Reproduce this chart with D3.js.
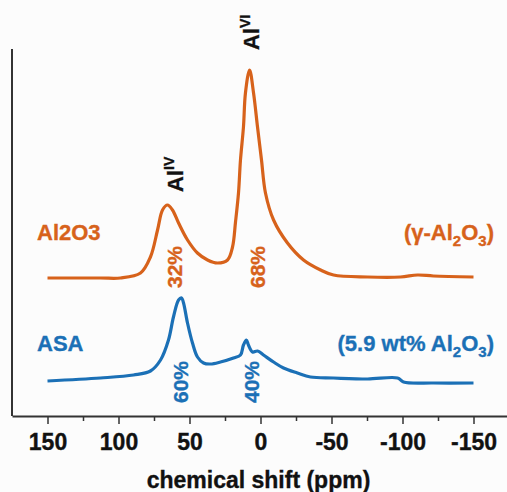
<!DOCTYPE html>
<html>
<head>
<meta charset="utf-8">
<script src="https://cdn.jsdelivr.net/npm/d3@7"></script>
<style>
  body { margin: 0; background: #fcfcfc; }
  svg { display: block; font-family: "Liberation Sans", Arial, sans-serif; font-weight: bold; }
  text { stroke-width: 0.35px; }
</style>
</head>
<body>
<div id="chart"></div>
<script>
// chemical shift (ppm) and intensity (a.u., offset stacked)
const al2o3Ppm = [150, 112.7, 98.6, 84.5, 77.5, 72.5, 69, 65.5, 62, 57.7, 51.4, 44.4, 37.3, 30.3, 23.2, 19.7, 17.6, 15.5, 14.1, 12, 10.6, 7.7, 4.9, 2.1, -0.7, -3.5, -9.2, -19, -30.3, -42.3, -51.4, -75.4, -98.6, -110.6, -121.8, -150];
const al2o3Int = [138, 138, 138, 143, 159, 186, 206, 211, 206, 193, 176, 163, 156, 153, 156, 169, 194, 223, 256, 289, 323, 346, 323, 289, 256, 223, 196, 173, 156, 146, 141, 139, 139, 141, 140, 139];

const asaPpm = [150, 112.7, 89.4, 77.5, 70.4, 64.8, 61.3, 57.7, 55.6, 54.2, 51.4, 47.9, 44.4, 40.1, 35.2, 28.2, 19, 14.1, 12, 9.9, 8.5, 5.6, 2.1, -2.1, -9.2, -16.2, -26, -35.2, -51.4, -75.4, -96.5, -100.7, -121.8, -150];
const asaInt = [35, 38, 41, 45, 56, 76, 99, 116, 118, 113, 93, 73, 59, 53, 52, 54, 58, 61, 71, 76, 71, 64, 65, 61, 54, 48, 43, 39, 38, 37, 38, 34, 33, 33];

const xTicks = [150, 100, 50, 0, -50, -100, -150];
const xMinorTicks = [125, 75, 25, -25, -75, -125];

// percentage labels: [text, ppm, intensity, series]
const pctLabels = [["32%", 55.6, 128, "al2o3"], ["68%", -3.5, 128, "al2o3"], ["60%", 51.4, 13, "asa"], ["40%", 1.4, 13, "asa"]];
const siteLabels = [["IV", 54.9, 224], ["VI", 1.4, 366]];

const colors = { al2o3: "#d7621b", asa: "#1b70b6" };

const W = 507, H = 492;
const svg = d3.select("#chart").append("svg").attr("width", W).attr("height", H);

const x = d3.scaleLinear().domain([175, -175]).range([12, 509]);
const y = d3.scaleLinear().domain([0, 367]).range([416, 49]);

// axes
const axisG = svg.append("g").attr("transform", `translate(0,${y(0)})`);
axisG.call(d3.axisBottom(x).tickValues(xTicks).tickSize(8).tickSizeOuter(0).tickFormat(d => String(d)))
  .call(g => g.select(".domain").attr("stroke", "#333").attr("stroke-width", 2))
  .call(g => g.selectAll(".tick line").attr("stroke", "#333").attr("stroke-width", 1.5))
  .call(g => g.selectAll(".tick text").attr("fill", "#111").attr("stroke", "#111").attr("font-size", 23)
    .attr("font-weight", "bold").attr("font-family", "Liberation Sans, Arial, sans-serif").attr("dy", "1.0em"));
axisG.append("g").call(d3.axisBottom(x).tickValues(xMinorTicks).tickSize(5).tickFormat(""))
  .call(g => g.select(".domain").remove())
  .call(g => g.selectAll(".tick line").attr("stroke", "#333").attr("stroke-width", 1.5));

svg.append("line")
  .attr("x1", x(175)).attr("x2", x(175))
  .attr("y1", y(367)).attr("y2", y(0))
  .attr("stroke", "#333").attr("stroke-width", 2);

svg.append("text")
  .attr("x", x(0) - 2).attr("y", 488)
  .attr("text-anchor", "middle").attr("font-size", 23).attr("fill", "#111").attr("stroke", "#111")
  .text("chemical shift (ppm)");

// spectra
const line = d3.line().x(d => x(d[0])).y(d => y(d[1])).curve(d3.curveCatmullRom.alpha(0.5));
const series = [
  { key: "al2o3", pts: d3.zip(al2o3Ppm, al2o3Int) },
  { key: "asa", pts: d3.zip(asaPpm, asaInt) }
];
svg.selectAll(".spec").data(series).enter().append("path")
  .attr("class", "spec")
  .attr("d", d => line(d.pts))
  .attr("fill", "none")
  .attr("stroke", d => colors[d.key])
  .attr("stroke-width", 3.2)
  .attr("stroke-linejoin", "round");

// sample labels
svg.append("text").attr("x", 37).attr("y", 240).attr("font-size", 22)
  .attr("fill", colors.al2o3).attr("stroke", colors.al2o3).text("Al2O3");
svg.append("text").attr("x", 37).attr("y", 351).attr("font-size", 22)
  .attr("fill", colors.asa).attr("stroke", colors.asa).text("ASA");

function formula(t, pre) {
  t.append("tspan").text(pre + "Al");
  t.append("tspan").attr("font-size", 15).attr("dy", 6).text("2");
  t.append("tspan").attr("dy", -6).text("O");
  t.append("tspan").attr("font-size", 15).attr("dy", 6).text("3");
  t.append("tspan").attr("dy", -6).text(")");
}
formula(svg.append("text").attr("x", 494).attr("y", 240).attr("text-anchor", "end")
  .attr("font-size", 22).attr("fill", colors.al2o3).attr("stroke", colors.al2o3), "(γ-");
formula(svg.append("text").attr("x", 494).attr("y", 351).attr("text-anchor", "end")
  .attr("font-size", 22).attr("fill", colors.asa).attr("stroke", colors.asa), "(5.9 wt% ");

// rotated percentage labels
svg.selectAll(".pct").data(pctLabels).enter().append("text")
  .attr("class", "pct")
  .attr("transform", d => `translate(${x(d[1])},${y(d[2])}) rotate(-90)`)
  .attr("font-size", 21).attr("fill", d => colors[d[3]]).attr("stroke", d => colors[d[3]])
  .text(d => d[0]);

// Al site labels
siteLabels.forEach(d => {
  const t = svg.append("text")
    .attr("transform", `translate(${x(d[1])},${y(d[2])}) rotate(-90)`)
    .attr("font-size", 22).attr("fill", "#111").attr("stroke", "#111");
  t.append("tspan").text("Al");
  t.append("tspan").attr("font-size", 14).attr("dy", -9).text(d[0]);
});
</script>
</body>
</html>
